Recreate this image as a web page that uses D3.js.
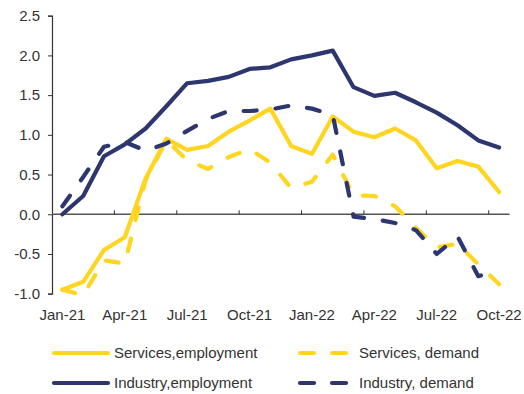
<!DOCTYPE html>
<html><head><meta charset="utf-8">
<script src="https://cdn.jsdelivr.net/npm/d3@7"></script>
<style>
html,body{margin:0;padding:0;background:#fff;}
svg{display:block;font-family:"Liberation Sans",Arial,sans-serif;}
</style></head>
<body><svg id="c" width="524" height="394"></svg>
<script>
const months = ["Jan-21","Feb-21","Mar-21","Apr-21","May-21","Jun-21","Jul-21","Aug-21","Sep-21","Oct-21","Nov-21","Dec-21",
  "Jan-22","Feb-22","Mar-22","Apr-22","May-22","Jun-22","Jul-22","Aug-22","Sep-22","Oct-22"];
const xLabels = ["Jan-21","Apr-21","Jul-21","Oct-21","Jan-22","Apr-22","Jul-22","Oct-22"];
const yTicks = [-1.0,-0.5,0.0,0.5,1.0,1.5,2.0,2.5];
const servicesEmployment = [-0.95,-0.85,-0.45,-0.29,0.45,0.95,0.81,0.86,1.04,1.18,1.33,0.86,0.76,1.23,1.04,0.97,1.08,0.93,0.58,0.67,0.60,0.28];
const servicesDemand = [-0.95,-1.02,-0.58,-0.62,0.43,0.93,0.68,0.57,0.72,0.82,0.65,0.33,0.41,0.75,0.24,0.23,0.10,-0.17,-0.42,-0.37,-0.63,-0.88];
const industryEmployment = [0.0,0.23,0.73,0.88,1.08,1.36,1.65,1.68,1.73,1.83,1.85,1.95,2.00,2.06,1.60,1.49,1.53,1.41,1.28,1.12,0.93,0.84];
const industryDemand = [0.10,0.47,0.85,0.91,0.80,0.89,1.05,1.20,1.30,1.30,1.32,1.37,1.33,1.25,-0.03,-0.06,-0.11,-0.20,-0.50,-0.28,-0.78,-0.70];
const seriesNames = ["Services,employment","Services, demand","Industry,employment","Industry, demand"];

const YELLOW = "#FFD520", NAVY = "#2E3670";
const series = [
  {name: seriesNames[0], values: servicesEmployment, color: YELLOW, dash: null},
  {name: seriesNames[1], values: servicesDemand, color: YELLOW, dash: "13,19"},
  {name: seriesNames[2], values: industryEmployment, color: NAVY, dash: null},
  {name: seriesNames[3], values: industryDemand, color: NAVY, dash: "13,19"}
];

const svg = d3.select("#c");
const x = d3.scaleBand().domain(months).range([52, 509.5]);
const y = d3.scaleLinear().domain([-1, 2.5]).range([293.7, 15.7]);
const textColor = "#333";

// y axis
const ya = svg.append("g").attr("transform","translate(52,0)")
  .call(d3.axisLeft(y).tickValues(yTicks).tickFormat(d => d.toFixed(1)).tickSize(4).tickPadding(8));
ya.select(".domain").attr("stroke","#333").attr("stroke-width",1.2);
ya.selectAll(".tick line").attr("stroke","#333");
ya.selectAll("text").attr("font-size",15).attr("fill",textColor);

// x axis line at zero
const x0 = y(0);
svg.append("line").attr("x1",52).attr("x2",509.5).attr("y1",x0).attr("y2",x0)
  .attr("stroke","#555").attr("stroke-width",1.3);
// tick marks at category boundaries every 3 months
const bIdx = [3,6,9,12,15,18,21];
svg.selectAll(".xt").data(bIdx).join("line")
  .attr("x1", i => x(months[i])).attr("x2", i => x(months[i]))
  .attr("y1", x0).attr("y2", x0 - 4).attr("stroke","#333").attr("stroke-width",1);
// x labels
const xa = svg.append("g").attr("transform","translate(0,306)")
  .call(d3.axisBottom(x).tickValues(xLabels).tickSize(0).tickPadding(0));
xa.select(".domain").remove();
xa.selectAll("text").attr("font-size",15).attr("fill",textColor).attr("dy","0.35em").attr("y",9);

// lines
const line = d3.line().x((d,i) => x(months[i]) + x.bandwidth()/2).y(d => y(d));
const order = [series[1], series[0], series[3], series[2]];
order.forEach(s => {
  svg.append("path").datum(s.values).attr("d", line)
    .attr("fill","none").attr("stroke", s.color).attr("stroke-width",4.2)
    .attr("stroke-linecap","round").attr("stroke-linejoin","round")
    .attr("stroke-dasharray", s.dash);
});

// legend
const legPos = [[52,353],[298,353],[52,383],[298,383]];
series.forEach((s,i) => {
  const [lx, ly] = legPos[i];
  const g = svg.append("g");
  if (s.dash) {
    g.append("line").attr("x1",lx+2).attr("x2",lx+16).attr("y1",ly).attr("y2",ly)
      .attr("stroke",s.color).attr("stroke-width",4.2).attr("stroke-linecap","round");
    g.append("line").attr("x1",lx+34).attr("x2",lx+48).attr("y1",ly).attr("y2",ly)
      .attr("stroke",s.color).attr("stroke-width",4.2).attr("stroke-linecap","round");
  } else {
    g.append("line").attr("x1",lx+2).attr("x2",lx+56).attr("y1",ly).attr("y2",ly)
      .attr("stroke",s.color).attr("stroke-width",4.2).attr("stroke-linecap","round");
  }
  g.append("text").attr("x", lx + (s.dash ? 61 : 62)).attr("y", ly).attr("dy","0.35em")
    .attr("font-size",15).attr("fill",textColor).text(s.name);
});
</script></body></html>
